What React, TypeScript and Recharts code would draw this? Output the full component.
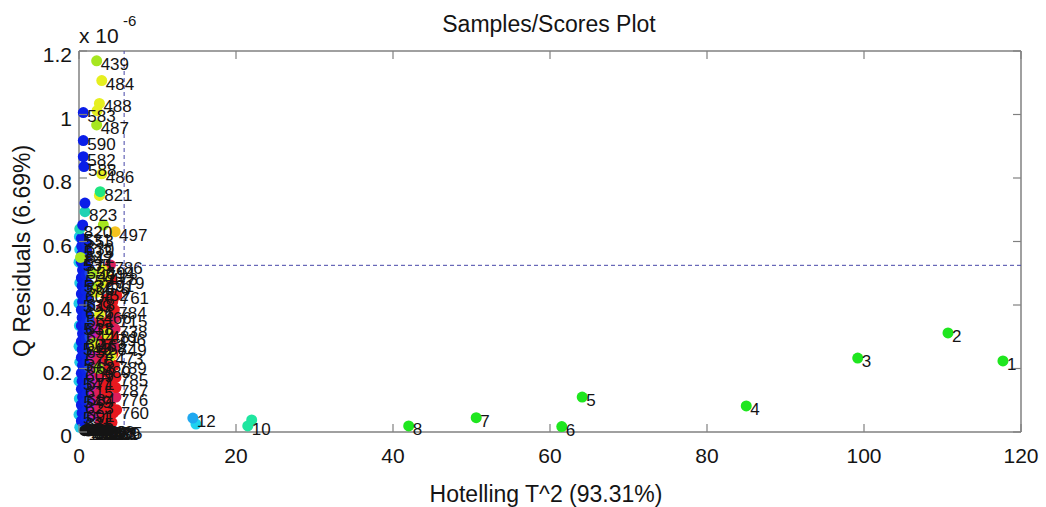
import React from 'react';
import { ScatterChart, Scatter, XAxis, YAxis, ReferenceLine } from 'recharts';

// [Hotelling T^2, Q residual (x 1e-6), sample id]
type Sample = [number, number, number];

const xTicks = [0, 20, 40, 60, 80, 100, 120];
const yTicks = [0, 0.2, 0.4, 0.6, 0.8, 1, 1.2];

// 95% confidence limits
const t2Limit = 5.75;
const qLimit = 0.525;

// samples whose id label is hidden behind a neighbour
const unlabeledIds = [9, 11, 483, 485, 498, 589, 592];

const farGreen: Sample[] = [
  [117.7, 0.224, 1], [110.7, 0.312, 2], [99.2, 0.233, 3], [85.0, 0.082, 4],
  [64.1, 0.11, 5], [61.5, 0.017, 6], [50.6, 0.045, 7], [42.0, 0.019, 8],
];
const farMint: Sample[] = [[22.0, 0.038, 9], [21.5, 0.019, 10]];
const farAqua: Sample[] = [[14.9, 0.025, 11]];
const farSky: Sample[] = [[14.5, 0.044, 12]];

const edgeCyan: Sample[] = [
  [0.05, 0.615, 531], [0.1, 0.575, 533], [0.0, 0.535, 535], [0.1, 0.47, 537],
  [0.0, 0.405, 539], [0.05, 0.335, 541], [0.0, 0.27, 543], [0.1, 0.22, 545],
  [0.0, 0.16, 547], [0.05, 0.105, 549], [0.0, 0.055, 551], [0.1, 0.015, 552],
];

const blueInner: Sample[] = [
  [0.3, 0.61, 553], [0.35, 0.585, 630], [0.4, 0.56, 612], [0.3, 0.535, 571],
  [0.45, 0.51, 556], [0.3, 0.485, 559], [0.4, 0.46, 565], [0.3, 0.435, 604],
  [0.45, 0.41, 618], [0.3, 0.385, 626], [0.4, 0.36, 561], [0.3, 0.335, 638],
  [0.45, 0.31, 644], [0.3, 0.285, 607], [0.4, 0.26, 652], [0.3, 0.235, 578],
  [0.45, 0.21, 663], [0.3, 0.185, 609], [0.4, 0.16, 671], [0.3, 0.135, 615],
  [0.45, 0.11, 684], [0.3, 0.085, 623], [0.4, 0.06, 691], [0.3, 0.035, 635],
];

const blueOuter: Sample[] = [
  [0.9, 0.595, 601], [1.0, 0.57, 567], [0.85, 0.545, 646], [1.0, 0.52, 574],
  [0.9, 0.495, 593], [1.05, 0.47, 655], [0.9, 0.445, 586], [1.0, 0.42, 661],
  [0.85, 0.395, 597], [1.0, 0.37, 668], [0.9, 0.345, 603], [1.05, 0.32, 677],
  [0.9, 0.295, 611], [1.0, 0.27, 686], [0.85, 0.245, 619], [1.0, 0.22, 694],
  [0.9, 0.195, 627], [1.05, 0.17, 658], [0.9, 0.145, 633], [1.0, 0.12, 672],
  [0.85, 0.095, 641], [1.0, 0.07, 680], [0.9, 0.045, 649],
];

const blueHigh: Sample[] = [
  [0.55, 1.006, 583], [0.55, 0.918, 590], [0.55, 0.867, 582], [0.64, 0.836, 588],
  [0.76, 0.721, 589], [0.47, 0.652, 592],
];

const royal: Sample[] = [
  [1.4, 0.5, 660], [1.5, 0.45, 664], [1.35, 0.4, 669], [1.5, 0.35, 675],
  [1.4, 0.3, 679], [1.5, 0.25, 683], [1.35, 0.2, 688], [1.5, 0.15, 692],
  [1.4, 0.1, 697], [1.5, 0.05, 699],
];

const violet: Sample[] = [
  [1.8, 0.145, 903], [2.1, 0.105, 911], [1.7, 0.08, 907], [2.2, 0.055, 915],
];

const magenta: Sample[] = [
  [2.2, 0.33, 921], [1.9, 0.3, 926], [2.3, 0.26, 932], [1.8, 0.235, 938],
  [2.1, 0.2, 941], [1.7, 0.18, 947], [2.2, 0.15, 952], [1.9, 0.12, 958],
  [2.4, 0.09, 963], [1.8, 0.06, 969],
];

const crimsonCore: Sample[] = [
  [2.9, 0.39, 802], [2.6, 0.355, 806], [3.0, 0.31, 811], [2.5, 0.285, 817],
  [2.8, 0.26, 825], [2.4, 0.225, 831], [3.0, 0.205, 836], [2.6, 0.18, 842],
  [2.9, 0.15, 851], [2.4, 0.12, 857], [2.8, 0.1, 862], [2.5, 0.07, 868],
  [3.0, 0.055, 873], [2.7, 0.03, 879],
];
const crimsonEdge: Sample[] = [
  [4.0, 0.526, 786], [4.6, 0.36, 715], [4.6, 0.325, 738], [4.5, 0.268, 749],
  [4.7, 0.11, 776],
];

const redCore: Sample[] = [
  [3.6, 0.42, 703], [3.3, 0.4, 708], [3.9, 0.355, 713], [3.2, 0.34, 719],
  [3.7, 0.315, 724], [3.4, 0.29, 731], [3.9, 0.27, 736], [3.1, 0.25, 742],
  [3.6, 0.23, 747], [4.0, 0.195, 753], [3.3, 0.19, 758], [3.8, 0.16, 764],
  [3.2, 0.14, 768], [3.6, 0.12, 771], [4.0, 0.09, 774], [3.4, 0.08, 781],
  [3.8, 0.05, 792], [3.1, 0.04, 798], [4.2, 0.03, 799], [4.3, 0.41, 706],
  [4.1, 0.33, 717], [4.3, 0.245, 728], [4.2, 0.15, 739], [4.4, 0.06, 745],
];
const redEdge: Sample[] = [
  [4.8, 0.43, 761], [4.2, 0.48, 779], [4.5, 0.385, 784], [4.4, 0.3, 796],
  [4.5, 0.21, 789], [4.7, 0.172, 785], [4.7, 0.14, 787], [4.8, 0.07, 760],
];

const lime: Sample[] = [
  [2.25, 1.169, 439], [2.25, 0.967, 487], [3.1, 0.652, 498], [0.2, 0.55, 847],
  [1.8, 0.5, 471], [2.4, 0.46, 476], [1.9, 0.28, 462], [2.5, 0.2, 489],
];

const yellow: Sample[] = [
  [2.9, 1.107, 484], [2.6, 1.035, 488], [2.3, 1.012, 485], [2.9, 0.813, 486],
  [2.6, 0.745, 483], [2.9, 0.47, 491], [2.2, 0.44, 452], [3.4, 0.49, 478],
  [2.6, 0.37, 466], [3.5, 0.31, 481], [2.0, 0.27, 458], [4.1, 0.24, 473],
  [3.0, 0.51, 494],
];

const amber: Sample[] = [[4.6, 0.631, 497]];
const mint: Sample[] = [[2.7, 0.757, 821]];
const teal: Sample[] = [[0.76, 0.694, 823], [0.1, 0.64, 820]];

const baseline: Sample[] = [
  [0.7, 0.004, 101], [0.95, 0.008, 108], [1.2, 0.003, 117], [1.45, 0.007, 124],
  [1.7, 0.004, 131], [1.95, 0.009, 139], [2.2, 0.003, 146], [2.45, 0.007, 152],
  [2.7, 0.004, 160], [2.95, 0.008, 168], [3.2, 0.003, 173], [3.45, 0.007, 181],
  [3.7, 0.004, 189], [3.95, 0.006, 195],
];

type Group = { samples: Sample[]; color: string; labeled: boolean };

const groups: Group[] = [
  { samples: edgeCyan, color: '#1fc8e6', labeled: true },
  { samples: blueInner, color: '#0a1ee8', labeled: true },
  { samples: blueOuter, color: '#0c24e6', labeled: false },
  { samples: royal, color: '#1e46e6', labeled: false },
  { samples: violet, color: '#7a1ee6', labeled: false },
  { samples: magenta, color: '#c81eb4', labeled: false },
  { samples: crimsonCore, color: '#dc1e5a', labeled: false },
  { samples: redCore, color: '#e8191f', labeled: false },
  { samples: crimsonEdge, color: '#dc1e5a', labeled: true },
  { samples: redEdge, color: '#e8191f', labeled: true },
  { samples: lime, color: '#a6e61f', labeled: true },
  { samples: yellow, color: '#e6ef1f', labeled: true },
  { samples: amber, color: '#f5c21f', labeled: true },
  { samples: mint, color: '#1fe682', labeled: true },
  { samples: teal, color: '#1fd2b4', labeled: true },
  { samples: blueHigh, color: '#0a1ee8', labeled: true },
  { samples: baseline, color: '#151515', labeled: true },
  { samples: farGreen, color: '#1fe61f', labeled: true },
  { samples: farMint, color: '#1fe6a0', labeled: true },
  { samples: farAqua, color: '#1fd2f0', labeled: true },
  { samples: farSky, color: '#1fa8f0', labeled: true },
];

const toPoints = (s: Sample[]) => s.map(([x, y, id]) => ({ x, y, id }));

const labelPoints = groups
  .filter((g) => g.labeled)
  .flatMap((g) => toPoints(g.samples))
  .filter((p) => !unlabeledIds.includes(p.id));

const W = 1046;
const H = 507;
const M = { top: 51, right: 25, bottom: 0, left: 19 };
const Y_AXIS_W = 60;
const X_AXIS_H = 75;
const PLOT_LEFT = M.left + Y_AXIS_W;
const PLOT_RIGHT = W - M.right;
const PLOT_TOP = M.top;
const PLOT_BOTTOM = H - X_AXIS_H;

const FONT = '"Liberation Sans", Arial, Helvetica, sans-serif';
const BOX = '#808080';
const INK = '#141414';
const TICK_LEN = 8;

const makeDot = (color: string) => (props: any) => (
  <circle cx={props.cx} cy={props.cy} r={5.5} fill={color} />
);

const IdLabel = (props: any) => {
  const id = props.payload?.id ?? props.id;
  return (
    <text x={props.cx + 4} y={props.cy + 9} fontSize={17} fill={INK} fontFamily={FONT}>
      {id}
    </text>
  );
};

const XTick = (props: any) => {
  const { x, payload } = props;
  return (
    <g>
      <line x1={x} x2={x} y1={PLOT_BOTTOM} y2={PLOT_BOTTOM - TICK_LEN} stroke={BOX} strokeWidth={1.2} />
      <line x1={x} x2={x} y1={PLOT_TOP} y2={PLOT_TOP + TICK_LEN} stroke={BOX} strokeWidth={1.2} />
      <text x={x} y={PLOT_BOTTOM + 31} textAnchor="middle" fontSize={21} fill={INK} fontFamily={FONT}>
        {payload.value}
      </text>
    </g>
  );
};

const YTick = (props: any) => {
  const { y, payload } = props;
  return (
    <g>
      <line x1={PLOT_LEFT} x2={PLOT_LEFT + TICK_LEN} y1={y} y2={y} stroke={BOX} strokeWidth={1.2} />
      <line x1={PLOT_RIGHT} x2={PLOT_RIGHT - TICK_LEN} y1={y} y2={y} stroke={BOX} strokeWidth={1.2} />
      <text x={PLOT_LEFT - 7} y={y + 11} textAnchor="end" fontSize={21} fill={INK} fontFamily={FONT}>
        {payload.value}
      </text>
    </g>
  );
};

export default function App() {
  return (
    <div style={{ position: 'absolute', left: 0, top: 0, width: W, height: H, background: '#fff' }}>
      <ScatterChart width={W} height={H} margin={M}>
        <XAxis
          type="number"
          dataKey="x"
          domain={[0, 120]}
          ticks={xTicks}
          interval={0}
          height={X_AXIS_H}
          axisLine={{ stroke: BOX, strokeWidth: 1.5 }}
          tickLine={false}
          tickSize={0}
          tick={<XTick />}
        />
        <YAxis
          type="number"
          dataKey="y"
          domain={[0, 1.2]}
          ticks={yTicks}
          interval={0}
          width={Y_AXIS_W}
          axisLine={{ stroke: BOX, strokeWidth: 1.5 }}
          tickLine={false}
          tickSize={0}
          tick={<YTick />}
        />
        <ReferenceLine y={1.2} stroke={BOX} strokeWidth={1.5} />
        <ReferenceLine x={120} stroke={BOX} strokeWidth={1.5} />
        {groups.map((g, i) => (
          <Scatter
            key={i}
            data={toPoints(g.samples)}
            fill={g.color}
            shape={makeDot(g.color)}
            isAnimationActive={false}
          />
        ))}
        <Scatter data={labelPoints} shape={IdLabel} isAnimationActive={false} />
        <ReferenceLine x={t2Limit} stroke="#4646a8" strokeWidth={1} strokeDasharray="4 3" />
        <ReferenceLine y={qLimit} stroke="#4646a8" strokeWidth={1} strokeDasharray="4 3" />
      </ScatterChart>
      <svg
        width={W}
        height={H}
        style={{ position: 'absolute', left: 0, top: 0, pointerEvents: 'none' }}
        fontFamily={FONT}
      >
        <text x={549} y={32} textAnchor="middle" fontSize={23} fill={INK}>
          Samples/Scores Plot
        </text>
        <text x={546} y={502} textAnchor="middle" fontSize={23} fill={INK}>
          Hotelling T^2 (93.31%)
        </text>
        <text transform="translate(30,251) rotate(-90)" textAnchor="middle" fontSize={23} fill={INK}>
          Q Residuals (6.69%)
        </text>
        <text x={79} y={43} fontSize={21} fill={INK}>
          x 10
        </text>
        <text x={123} y={26} fontSize={15} fill={INK}>
          -6
        </text>
      </svg>
    </div>
  );
}
